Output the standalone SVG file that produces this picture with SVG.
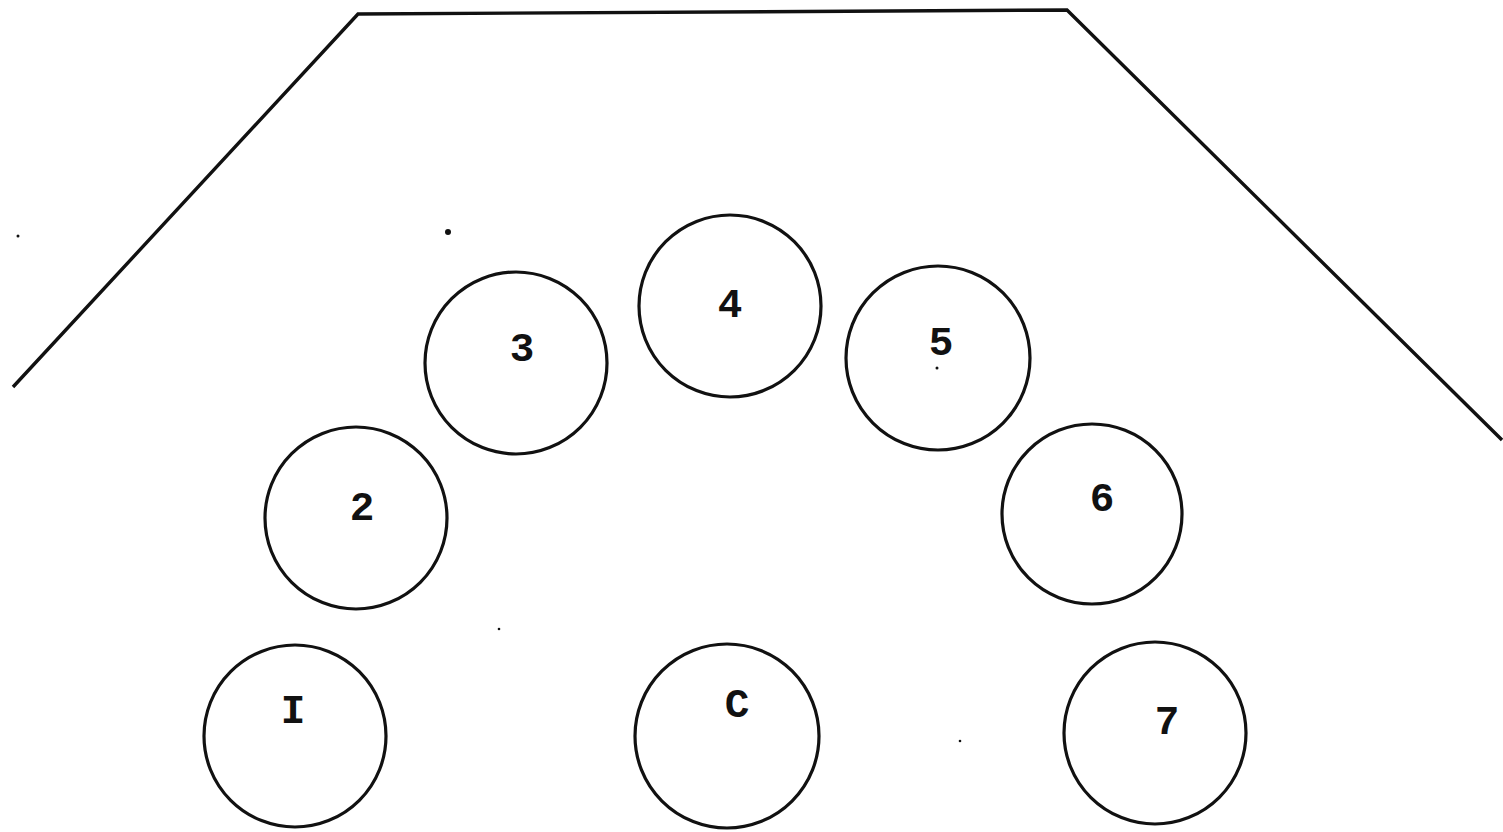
<svg xmlns="http://www.w3.org/2000/svg" width="1503" height="832" viewBox="0 0 1503 832">
<style>
.n{fill:none;stroke:#111;stroke-width:3.2}
.t{font-family:"Liberation Mono","DejaVu Sans Mono",monospace;font-weight:bold;font-size:41px;fill:#111;text-anchor:middle}
.d{fill:#111}
</style>
<rect width="1503" height="832" fill="#fff"/>
<g id="outline">
<polyline points="13,387 358,14 1067,10 1502,440" fill="none" stroke="#111" stroke-width="3.4" stroke-linejoin="miter"/>
</g>
<g id="node-3"><circle class="n" cx="516" cy="363" r="91"/><text class="t" x="522" y="361">3</text></g>
<g id="node-4"><circle class="n" cx="730" cy="306" r="91"/><text class="t" x="730" y="317">4</text></g>
<g id="node-5"><circle class="n" cx="938" cy="358" r="92"/><text class="t" x="941" y="355">5</text></g>
<g id="node-2"><circle class="n" cx="356" cy="518" r="91"/><text class="t" x="362" y="520">2</text></g>
<g id="node-6"><circle class="n" cx="1092" cy="514" r="90"/><text class="t" x="1102" y="511">6</text></g>
<g id="node-I"><circle class="n" cx="295" cy="736" r="91"/><text class="t" x="293" y="723">I</text></g>
<g id="node-C"><circle class="n" cx="727" cy="736" r="92"/><text class="t" x="737" y="717">C</text></g>
<g id="node-7"><circle class="n" cx="1155" cy="733" r="91"/><text class="t" x="1167" y="734">7</text></g>
<g id="connectors"></g>
<g id="specks">
<circle class="d" cx="18" cy="236" r="1.5"/>
<circle class="d" cx="448" cy="232" r="3"/>
<circle class="d" cx="937" cy="368" r="1.5"/>
<circle class="d" cx="499" cy="629" r="1.3"/>
<circle class="d" cx="960" cy="741" r="1.3"/>
</g>
</svg>
